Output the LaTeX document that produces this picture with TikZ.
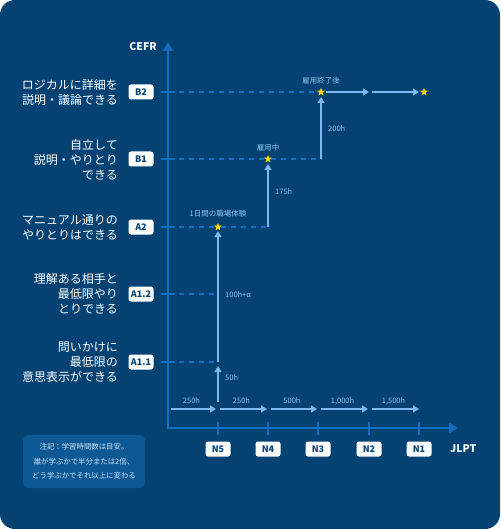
\documentclass[tikz,border=0pt]{standalone}
\usepackage{fontspec}
\setmainfont{Noto Sans CJK JP}
\usetikzlibrary{arrows.meta,shapes.geometric}
\definecolor{bgblue}{RGB}{3,66,114}
\definecolor{axisblue}{RGB}{22,110,192}
\definecolor{lightarrow}{RGB}{122,186,240}
\definecolor{annot}{RGB}{140,196,240}
\definecolor{notefill}{RGB}{14,88,148}
\definecolor{notetext}{RGB}{200,226,246}
\definecolor{staryellow}{RGB}{255,214,0}
\tikzset{
  lvbox/.style={fill=white, rounded corners=2.5pt, minimum width=25pt, minimum height=15pt, inner sep=0pt, text=bgblue, font=\fontsize{9}{10}\selectfont\bfseries},
  lvlabel/.style={anchor=east, align=right, text=white, inner sep=0pt, font=\fontsize{12}{15}\selectfont},
  axisline/.style={draw=axisblue, line width=2pt},
  tickline/.style={draw=axisblue, line width=1.4pt},
  dashline/.style={draw=axisblue, line width=1.1pt, dash pattern=on 5pt off 5pt},
  larrow/.style={draw=lightarrow, line width=1.3pt, -{Triangle[length=6pt,width=7pt]}},
  lline/.style={draw=lightarrow, line width=1.3pt},
  hlabel/.style={text=annot, inner sep=0pt, font=\fontsize{7.5}{9}\selectfont},
  goldstar/.style={star, star points=5, star point ratio=2.4, fill=staryellow, minimum size=8.5pt, inner sep=0pt},
}
\begin{document}
\begin{tikzpicture}[x=1pt,y=-1pt]
\useasboundingbox (0,0) rectangle (500,529);
\fill[bgblue, rounded corners=15pt] (0,0) rectangle (500,529);

% axes
\coordinate (ytop) at (168,42);
\coordinate (orig) at (168,428);
\coordinate (xend) at (458,428);
\draw[axisline, {Triangle[length=9pt,width=10pt]}-{Triangle[length=9pt,width=10pt]}] (ytop) |- (xend);
\node[text=white, font=\fontsize{10.5}{12}\selectfont\bfseries, anchor=east, inner sep=0pt] (cefr) at (157,47) {CEFR};
\node[text=white, font=\fontsize{10.5}{12}\selectfont\bfseries, anchor=west, inner sep=0pt] (jlpt) at (450,449) {JLPT};

% JLPT levels
\foreach \n/\x in {N5/218,N4/268,N3/318,N2/369,N1/419}{
  \draw[tickline] (\x,422) -- (\x,435);
  \node[lvbox] (\n) at (\x,449) {\n};
}

% CEFR levels
\foreach \n/\y in {B2/92,B1/159,A2/227,A12/294,A11/362}{
  \draw[tickline] (161,\y) -- (175,\y);
}
\node[lvbox] (B2) at (141,92) {B2};
\node[lvbox] (B1) at (141,159) {B1};
\node[lvbox] (A2) at (141,227) {A2};
\node[lvbox] (A12) at (141,294) {A1.2};
\node[lvbox] (A11) at (141,362) {A1.1};

\node[lvlabel] (lB2) at (118,92) {ロジカルに詳細を\\説明・議論できる};
\node[lvlabel] (lB1) at (118,160) {自立して\\説明・やりとり\\できる};
\node[lvlabel] (lA2) at (118,227) {マニュアル通りの\\やりとりはできる};
\node[lvlabel] (lA12) at (118,294) {理解ある相手と\\最低限やり\\とりできる};
\node[lvlabel] (lA11) at (118,362) {問いかけに\\最低限の\\意思表示ができる};

% stars
\node[goldstar] (s1) at (218,227) {};
\node[goldstar] (s2) at (268,159) {};
\node[goldstar] (s3) at (321,92) {};
\node[goldstar] (s4) at (424,92) {};
\coordinate (c200) at (321,159);
\coordinate (c175) at (268,227);
\coordinate (c12) at (218,294);
\coordinate (c11) at (218,362);

% dashed guide lines
\draw[dashline] (179,92) -- (s3.west);
\draw[dashline] (179,159) -- (s2.west);
\draw[dashline] (s2.east) -- (c200);
\draw[dashline] (179,227) -- (s1.west);
\draw[dashline] (s1.east) -- (c175);
\draw[dashline] (179,294) -- (c12);
\draw[dashline] (179,362) -- (c11);

% vertical progress arrows
\coordinate (v0) at (218,402);
\coordinate (v0t) at (218,366);
\draw[larrow] (v0) -- (v0t);
\draw[larrow] (c11) -- (218,231);
\draw[larrow] (c175) -- (268,164);
\draw[larrow] (c200) -- (321,97);
\node[hlabel, anchor=west] (h50) at (225,378) {50h};
\node[hlabel, anchor=west] (h100) at (225,295) {100h+α};
\node[hlabel, anchor=west] (h175) at (275,192) {175h};
\node[hlabel, anchor=west] (h200) at (328,129) {200h};

% horizontal B2 arrows
\coordinate (b2a) at (326,92);
\coordinate (b2b) at (369,92);
\coordinate (b2c) at (372,92);
\coordinate (b2d) at (419,92);
\draw[larrow] (b2a) -- (b2b);
\draw[larrow] (b2c) -- (b2d);

% annotations
\node[hlabel] (t1) at (218,214) {1日間の職場体験};
\node[hlabel] (t2) at (268,148) {雇用中};
\node[hlabel] (t3) at (321,81) {雇用終了後};

% bottom arrows
\foreach \a/\b/\t in {171/216/250h,220/267/250h,271/317/500h,321/368/{1,000h},372/419/{1,500h}}{
  \draw[larrow] (\a,409) -- (\b,409);
  \node[hlabel] at ({(\a+\b)/2-2},401) {\t};
}

% note
\node[fill=notefill, rounded corners=6pt, minimum width=122pt, minimum height=53pt, inner sep=0pt, text=notetext, align=center, font=\fontsize{7.4}{14.5}\selectfont] (note) at (84,461.5) {注記：学習時間数は目安。\\誰が学ぶかで半分または2倍、\\どう学ぶかでそれ以上に変わる};
\end{tikzpicture}
\end{document}
